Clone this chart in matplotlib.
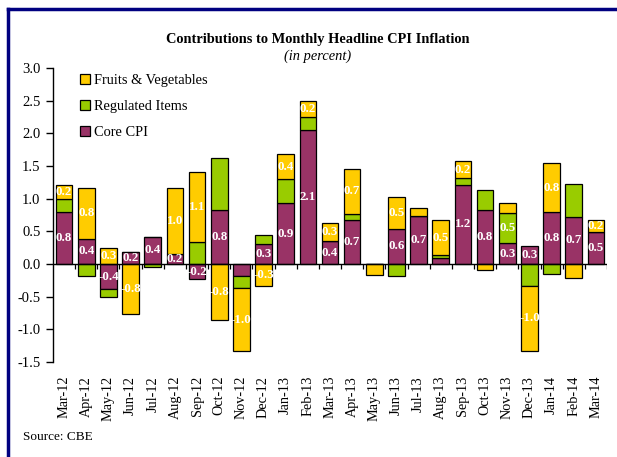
import matplotlib
matplotlib.use("Agg")
import matplotlib.pyplot as plt
import numpy as np

plt.rcParams["font.family"] = ["Liberation Serif", "DejaVu Serif"]

FRUIT = "#FFCC00"
REG = "#99CC00"
CORE = "#993366"
NAVY = "#000080"

months = ["Mar-12", "Apr-12", "May-12", "Jun-12", "Jul-12", "Aug-12", "Sep-12",
          "Oct-12", "Nov-12", "Dec-12", "Jan-13", "Feb-13", "Mar-13", "Apr-13",
          "May-13", "Jun-13", "Jul-13", "Aug-13", "Sep-13", "Oct-13", "Nov-13",
          "Dec-13", "Jan-14", "Feb-14", "Mar-14"]

core = [0.80, 0.39, -0.39, 0.19, 0.42, 0.15, -0.23, 0.83, -0.19, 0.30, 0.93, 2.05, 0.35,
        0.68, 0.00, 0.54, 0.73, 0.09, 1.21, 0.82, 0.32, 0.28, 0.79, 0.72, 0.49]
regulated = [0.19, -0.19, -0.12, 0.00, -0.05, 0.00, 0.34, 0.79, -0.18, 0.14, 0.37, 0.20, 0.00,
             0.09, 0.00, -0.18, 0.00, 0.05, 0.11, 0.31, 0.46, -0.33, -0.15, 0.51, 0.00]
fruits = [0.22, 0.77, 0.24, -0.77, 0.00, 1.02, 1.07, -0.86, -0.96, -0.33, 0.38, 0.24, 0.27,
          0.69, -0.17, 0.49, 0.12, 0.53, 0.25, -0.09, 0.16, -1.00, 0.76, -0.22, 0.18]

# which segment values are printed on the bars
core_labels = ["0.8", "0.4", "-0.4", "0.2", "0.4", "0.2", "-0.2", "0.8", "", "0.3", "0.9", "2.1", "0.4",
               "0.7", "", "0.6", "0.7", "", "1.2", "0.8", "0.3", "0.3", "0.8", "0.7", "0.5"]
reg_labels = [""] * 20 + ["0.5"] + [""] * 4
fruit_labels = ["0.2", "0.8", "0.3", "-0.8", "", "1.0", "1.1", "-0.8", "-1.0", "-0.3", "0.4", "0.2", "0.3",
                "0.7", "", "0.5", "", "0.5", "0.2", "", "", "-1.0", "0.8", "", "0.2"]

fig = plt.figure(figsize=(6.17, 4.57), dpi=100)
ax = fig.add_axes([0.0859, 0.2079, 0.8979, 0.6433])

x = np.arange(len(months))
pos_base = np.zeros(len(months))
neg_base = np.zeros(len(months))
series = [(core, CORE, "Core CPI", core_labels),
          (regulated, REG, "Regulated Items", reg_labels),
          (fruits, FRUIT, "Fruits & Vegetables", fruit_labels)]
handles = {}
for vals, col, name, labs in series:
    vals = np.array(vals)
    bottom = np.where(vals >= 0, pos_base, neg_base)
    bars = ax.bar(x, vals, 0.75, bottom=bottom, color=col, edgecolor="black",
                  linewidth=0.9, label=name, zorder=3)
    handles[name] = bars
    for xi, v, b, t in zip(x, vals, bottom, labs):
        if t:
            ax.text(xi, b + v / 2, t, ha="center", va="center", color="white",
                    fontsize=9.3, fontweight="bold", zorder=5)
    pos_base = pos_base + np.where(vals >= 0, vals, 0)
    neg_base = neg_base + np.where(vals < 0, vals, 0)

ax.set_xlim(-0.5, len(months) - 0.5)
ax.set_ylim(-1.5, 3.0)
ax.set_yticks(np.arange(-1.5, 3.01, 0.5))
ax.set_yticklabels([f"{v:.1f}" for v in np.arange(-1.5, 3.01, 0.5)])
ax.set_xticks(x)
ax.set_xticklabels(months, rotation=90, fontsize=10.3)
ax.tick_params(axis="x", length=0, pad=10)
ax.tick_params(axis="y", direction="out", length=5, width=1, labelsize=10.5, pad=4)

for s in ["top", "right", "bottom"]:
    ax.spines[s].set_visible(False)
ax.spines["left"].set_linewidth(1)

# zero line with tick marks between categories
ax.axhline(0, color="black", lw=1, zorder=4)
ax.vlines(np.arange(0.5, len(months) - 0.4, 1), -0.07, 0, color="black", lw=0.9, zorder=4)

order = ["Fruits & Vegetables", "Regulated Items", "Core CPI"]
ax.legend([handles[k] for k in order], order, loc="upper left",
          bbox_to_anchor=(0.025, 1.025), frameon=False, fontsize=10.4,
          handlelength=0.7, handleheight=0.7, handletextpad=0.3, labelspacing=0.9)

fig.text(0.515, 0.914, "Contributions to Monthly Headline CPI Inflation",
         ha="center", va="center", fontsize=10.4, fontweight="bold")
fig.text(0.515, 0.876, "(in percent)", ha="center", va="center", fontsize=10.4, style="italic")
fig.text(0.038, 0.043, "Source: CBE", ha="left", va="center", fontsize=9.5)

# navy frame on top and left edges
fig.add_artist(plt.Line2D([0.0135, 1.0], [0.9795, 0.9795], color=NAVY, lw=2.5,
                          transform=fig.transFigure))
fig.add_artist(plt.Line2D([0.0135, 0.0135], [0.0, 0.9795], color=NAVY, lw=2.5,
                          transform=fig.transFigure))

fig.savefig("out.png", dpi=100, facecolor="white")
